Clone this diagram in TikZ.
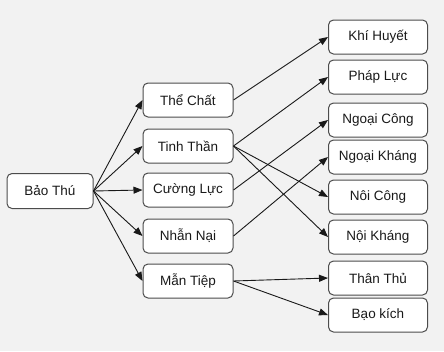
\documentclass[tikz,border=0pt]{standalone}
\usepackage{fontspec}
\setmainfont{Liberation Sans}
\usetikzlibrary{arrows.meta}
\begin{document}
\begin{tikzpicture}[x=1pt,y=-1pt,
  box/.style={draw=black!70,line width=1pt,fill=white,rounded corners=5pt,inner sep=0pt,font=\fontsize{13.5}{15}\selectfont,text=black!90},
  lbox/.style={box,minimum width=86pt,minimum height=35pt},
  mbox/.style={box,minimum width=90pt,minimum height=34pt},
  rbox/.style={box,minimum width=99pt,minimum height=34pt},
  conn/.style={draw=black!90,line width=0.9pt,-{Triangle[length=9pt,width=7pt]}}]
\fill[black!5] (0,0) rectangle (444,351);
\useasboundingbox (0,0) rectangle (444,351);
\node[lbox] (bt) at (50,191) {Bảo Thú};
\node[mbox] (tc) at (188,100) {Thể Chất};
\node[mbox] (tt) at (188,146) {Tinh Thần};
\node[mbox] (cl) at (188,190) {Cường Lực};
\node[mbox] (nn) at (188,236) {Nhẫn Nại};
\node[mbox] (mt) at (188,281) {Mẫn Tiệp};
\node[rbox] (kh) at (378,37) {Khí Huyết};
\node[rbox] (pl) at (378,77) {Pháp Lực};
\node[rbox] (ngc) at (378,120) {Ngoại Công};
\node[rbox] (ngk) at (378,157) {Ngoại Kháng};
\node[rbox] (noc) at (378,197) {Nôi Công};
\node[rbox] (nok) at (378,237) {Nội Kháng};
\node[rbox] (ths) at (378,278) {Thân Thủ};
\node[rbox] (bk) at (378,315) {Bạo kích};
\foreach \t in {tc,tt,cl,nn,mt}{\draw[conn] (bt.east) -- (\t.west);}
\draw[conn] (tc.east) -- (kh.west);
\draw[conn] (tt.east) -- (pl.west);
\draw[conn] (tt.east) -- (noc.west);
\draw[conn] (tt.east) -- (nok.west);
\draw[conn] (cl.east) -- (ngc.west);
\draw[conn] (nn.east) -- (ngk.west);
\draw[conn] (mt.east) -- (ths.west);
\draw[conn] (mt.east) -- (bk.west);
\end{tikzpicture}
\end{document}
